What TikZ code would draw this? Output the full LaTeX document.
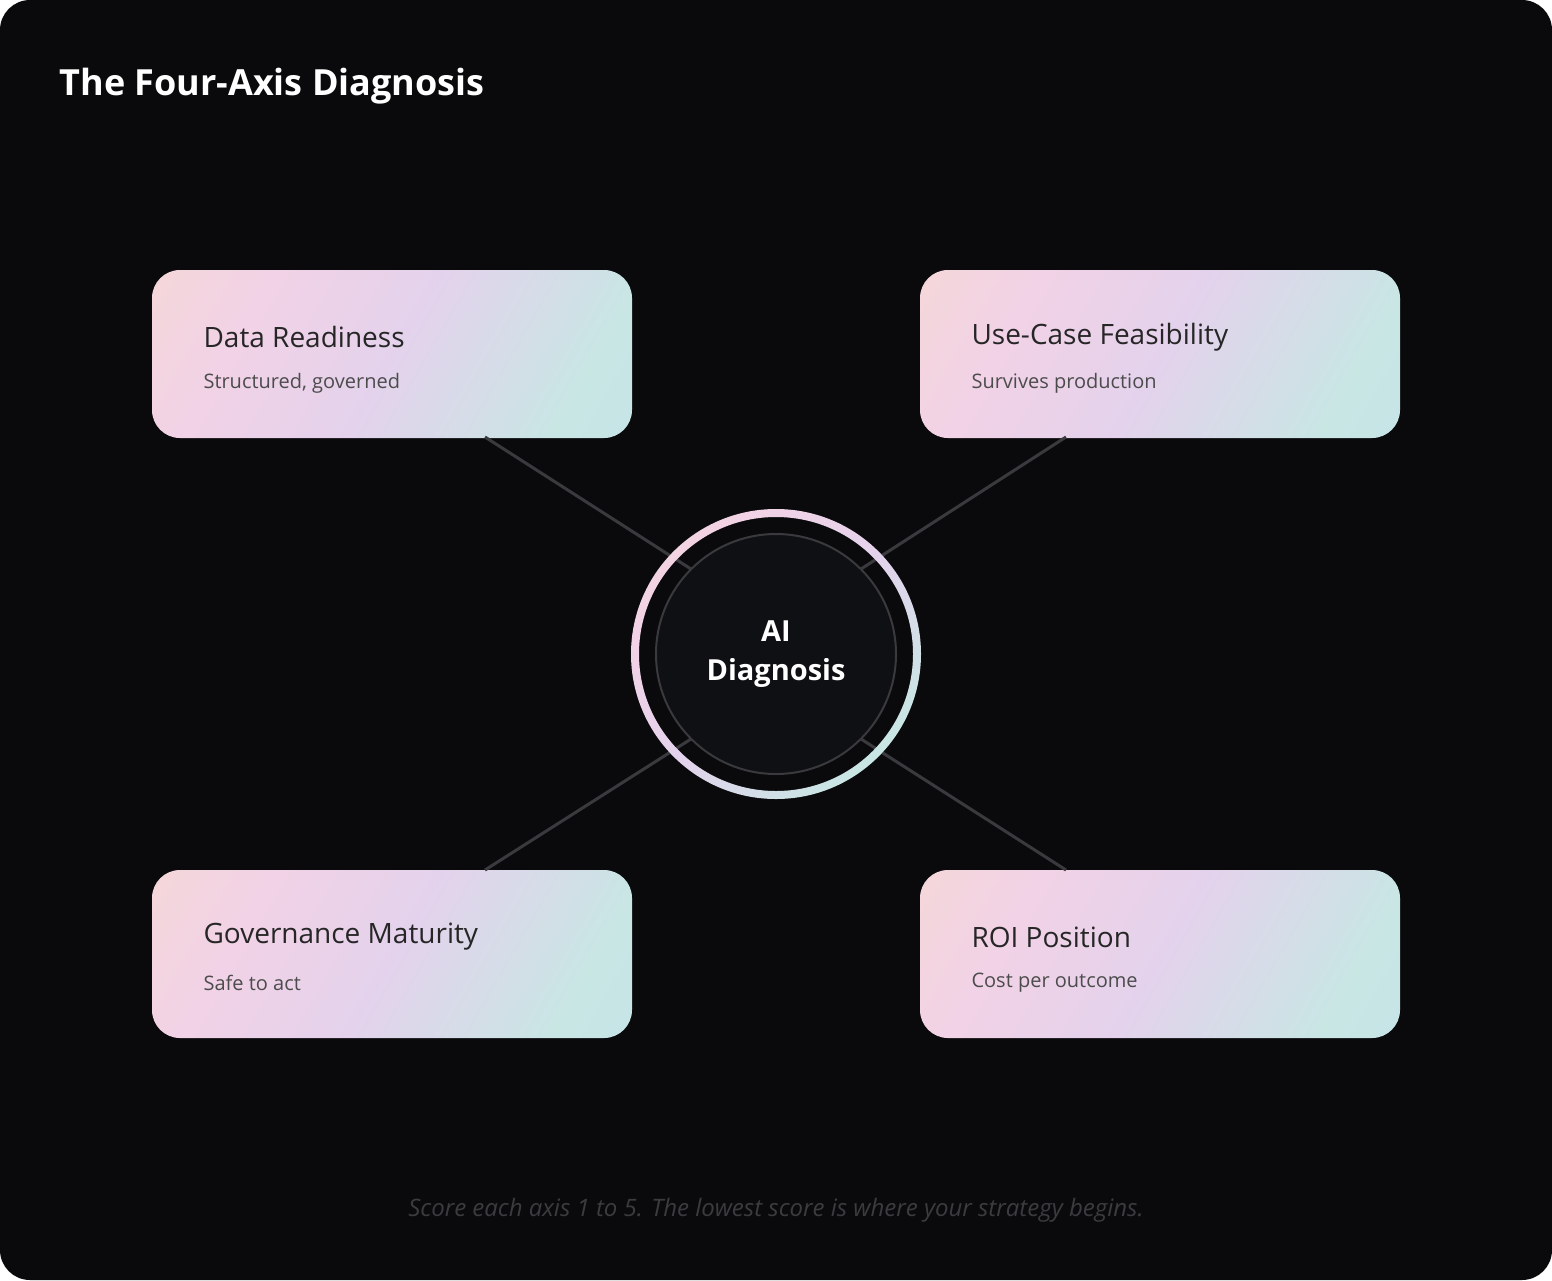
\documentclass[tikz,border=0pt]{standalone}
\usepackage{fontspec}
\setmainfont{Open Sans}
\usetikzlibrary{calc}
\definecolor{bg}{HTML}{0A0A0C}
\definecolor{cpeach}{HTML}{F6DCCB}
\definecolor{cpink}{HTML}{F2D2E6}
\definecolor{clav}{HTML}{E4D2EC}
\definecolor{ccyan}{HTML}{C8E6E4}
\definecolor{cblue}{HTML}{C6E2EA}
\definecolor{linec}{HTML}{3A3A3E}
\definecolor{innerfill}{HTML}{0E1014}
\definecolor{footc}{HTML}{3C3C40}
\pgfdeclarehorizontalshading{cardshade}{100bp}{color(0bp)=(cpeach);color(30bp)=(cpink);color(50bp)=(clav);color(75bp)=(ccyan);color(100bp)=(cblue)}
\pgfdeclarehorizontalshading{ringshade}{100bp}{color(0bp)=(cpeach);color(30bp)=(cpink);color(50bp)=(clav);color(75bp)=(ccyan);color(100bp)=(cblue)}
\tikzset{
  card/.style={rounded corners=28pt, shading=cardshade, shading angle=-30, minimum width=480pt, minimum height=168pt, inner sep=0pt},
  ttl/.style={anchor=west, font=\fontsize{28}{32}\selectfont, text=black!85},
  sub/.style={anchor=west, font=\fontsize{20}{24}\selectfont, text=black!70},
  conn/.style={draw=linec, line width=3pt},
}
\begin{document}
\begin{tikzpicture}[x=1pt,y=-1pt]
\fill[white] (0,0) rectangle (1552,1280);
\useasboundingbox (0,0) rectangle (1552,1280);
\fill[bg, rounded corners=30pt] (0,0) rectangle (1552,1280);
\node[anchor=west, text=white, font=\bfseries\fontsize{36}{40}\selectfont] (title) at (56,86) {The Four-Axis Diagnosis};
\coordinate (c) at (776,654);
\node[circle, minimum size=240pt, inner sep=0pt] (inner) at (c) {};
\node[card] (dr) at (392,354) {};
\node[card] (uc) at (1160,354) {};
\node[card] (gm) at (392,954) {};
\node[card] (roi) at (1160,954) {};
\coordinate (drb) at (485,437); \coordinate (ucb) at (1066,437);
\coordinate (gmt) at (485,870); \coordinate (roit) at (1066,870);
\draw[conn] (drb) -- (inner.135);
\draw[conn] (ucb) -- (inner.45);
\draw[conn] (gmt) -- (inner.-135);
\draw[conn] (roit) -- (inner.-45);
\shade[shading=ringshade, shading angle=-45, even odd rule] (c) circle (145) (c) circle (137);
\draw[fill=innerfill, draw=linec, line width=2pt] (c) circle (120);
\node[align=center, text=white, font=\bfseries\fontsize{29}{39}\selectfont] (ai) at (c) {AI\\Diagnosis};
\node[ttl] (drt) at (200,337) {Data Readiness};
\node[sub] (drs) at (200,383) {Structured, governed};
\node[ttl] (uct) at (968,337) {Use-Case Feasibility};
\node[sub] (ucs) at (968,383) {Survives production};
\node[ttl] (gmtt) at (200,937) {Governance Maturity};
\node[sub] (gms) at (200,983) {Safe to act};
\node[ttl] (roitt) at (968,937) {ROI Position};
\node[sub] (rois) at (968,983) {Cost per outcome};
\node[text=footc, font=\itshape\fontsize{24}{28}\selectfont] (foot) at (776,1210) {Score each axis 1 to 5. The lowest score is where your strategy begins.};
\end{tikzpicture}
\end{document}
